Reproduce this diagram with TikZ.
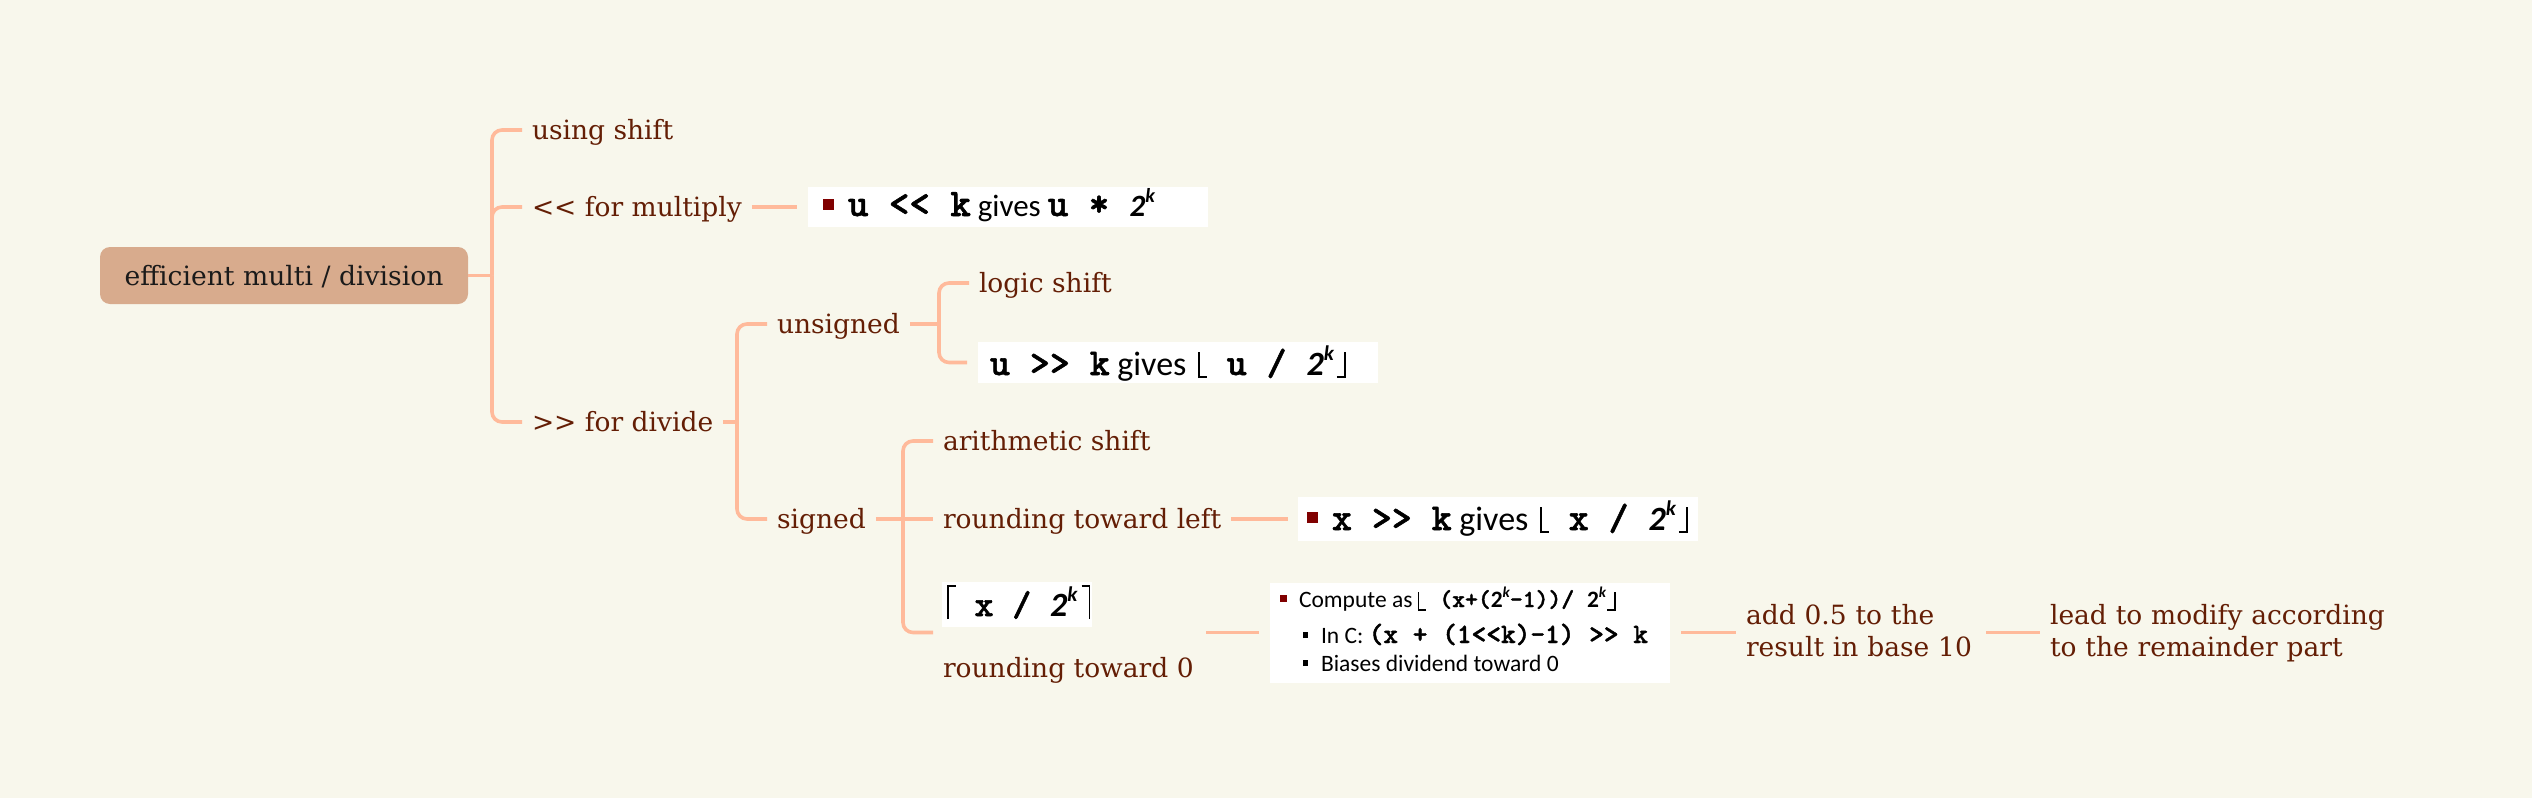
\documentclass[tikz,border=0pt]{standalone}
\usepackage{fontspec}
\setmainfont{DejaVu Serif}
\newfontfamily\calfont{Carlito}
\newfontfamily\codefont[FakeBold=1.5]{lmmonolt10-bold.otf}
\definecolor{bgc}{RGB}{248,247,236}
\definecolor{linec}{RGB}{255,186,155}
\definecolor{brownc}{RGB}{100,30,5}
\definecolor{rootc}{RGB}{216,171,141}
\definecolor{roottext}{RGB}{26,26,26}
\definecolor{bulred}{RGB}{128,0,0}
\newcommand\tsz{\fontsize{26.5pt}{32pt}\selectfont}
\newcommand\cd[2]{{\codefont\fontsize{#1pt}{#1pt}\selectfont #2}}
\newcommand\cb[2]{{\calfont\fontsize{#1pt}{#1pt}\selectfont #2}}
\newcommand\tk[2]{{\calfont\bfseries\fontsize{#1pt}{#1pt}\selectfont 2\raisebox{0.42em}{\itshape\fontsize{#2pt}{#2pt}\selectfont k}}}
\newcommand\tki[2]{{\calfont\bfseries\itshape\fontsize{#1pt}{#1pt}\selectfont 2\raisebox{0.42em}{\fontsize{#2pt}{#2pt}\selectfont k}}}
% floor / ceiling brackets: #1 total height, #2 depth below baseline
\newcommand\flo[2]{\rule[-#2pt]{1.7pt}{#1pt}\rule[-#2pt]{7pt}{1.7pt}}
\newcommand\flc[2]{\rule[-#2pt]{7pt}{1.7pt}\rule[-#2pt]{1.7pt}{#1pt}}
\newcommand\cei[2]{\rule[-#2pt]{1.7pt}{#1pt}\rule[\dimexpr#1pt-#2pt-1.7pt\relax]{7pt}{1.7pt}}
\newcommand\cec[2]{\rule[\dimexpr#1pt-#2pt-1.7pt\relax]{7pt}{1.7pt}\rule[-#2pt]{1.7pt}{#1pt}}
\newcommand\bul[2]{\raisebox{#1pt}{\textcolor{bulred}{\rule{#2pt}{#2pt}}}}
\newcommand\sbul{\raisebox{5pt}{\rule{5pt}{6pt}}}
\begin{document}
\begin{tikzpicture}[x=1pt,y=-1pt,
  conn/.style={draw=linec,line width=3.6pt,rounded corners=10pt},
  topic/.style={anchor=west,text=brownc,font=\tsz,inner xsep=10pt,inner ysep=0pt,outer sep=0pt,text height=22pt,text depth=4pt},
  wbox/.style={fill=white,inner sep=0pt,outer xsep=11pt,outer ysep=0pt,anchor=west},
  cont/.style={anchor=base west,inner sep=0pt,outer sep=0pt,text=black}]
\fill[bgc] (0,0) rectangle (2532,798);
\useasboundingbox (0,0) rectangle (2532,798);

% root
\node[fill=rootc,rounded corners=10pt,minimum width=368pt,minimum height=57pt,inner sep=0pt,
      text=roottext,font=\fontsize{26.6pt}{30pt}\selectfont,text height=24pt,text depth=5pt] (root) at (284,275.5) {efficient multi / division};

% level 1
\node[topic] (using) at (522,130) {using shift};
\node[topic] (mult) at (522,207) {<{}< for multiply};
\node[topic] (divide) at (522,422) {>{}> for divide};

% multiply box
\node[wbox,minimum width=400pt,minimum height=40pt] (mulbox) at (797,207) {};
\node[cont] (multxt) at (823,216) {\bul{6}{11}\hspace{14pt}\cd{39}{u << k}\cb{31}{ gives }\cd{39}{u * }\tki{31}{20}};

% divide
\node[topic] (unsigned) at (767,324) {unsigned};
\node[topic] (signed) at (767,519) {signed};

% unsigned
\node[topic] (logic) at (969,283) {logic shift};
\node[wbox,minimum width=400pt,minimum height=41pt] (ushbox) at (967,362.5) {};
\node[cont] (ushtxt) at (990,375) {\cd{38}{u >> k}\cb{34}{ gives }\hspace{4pt}\flo{26}{3}\cd{38}{ u / }\tki{34}{21}\hspace{3pt}\flc{26}{3}};

% signed
\node[topic] (arith) at (933,441) {arithmetic shift};
\node[topic] (left) at (933,519) {rounding toward left};
\node[wbox,minimum width=400pt,minimum height=44pt,outer xsep=10pt] (xshbox) at (1288,519) {};
\node[cont] (xshtxt) at (1307,530) {\bul{7}{11}\hspace{14pt}\cd{38}{x >> k}\cb{34}{ gives }\hspace{4pt}\flo{26}{3}\cd{38}{ x / }\tki{34}{21}\hspace{3pt}\flc{26}{3}};

\node[minimum width=273pt,minimum height=100pt,inner sep=0pt,outer sep=0pt,anchor=west] (zero) at (933,632.5) {};
\node[fill=white,inner sep=0pt,minimum width=150pt,minimum height=45pt,anchor=north west] (ceilbox) at (942,582) {};
\node[cont] (ceiltxt) at (947,616) {\cei{34}{3}\cd{36}{ x / }\tki{34}{21}\hspace{4pt}\cec{34}{3}};
\node[topic,anchor=base west] (zerotxt) at (933,677) {rounding toward 0};

% compute box
\node[wbox,minimum width=400pt,minimum height=100pt] (compute) at (1259,632.5) {};
\node[cont] (c1) at (1280,607) {\bul{5}{7}\hspace{12pt}\cb{23.5}{Compute as }\flo{19}{4}\cd{24.5}{ (x+(}\tk{23.5}{15}\cd{24.5}{-1))/ }\tk{23.5}{15}\hspace{1pt}\flc{19}{4}};
\node[cont] (c2) at (1303,643) {\sbul\hspace{13pt}\cb{23.5}{In C: }\cd{28}{(x + (1<<k)-1) >> k}};
\node[cont] (c3) at (1303,671) {\sbul\hspace{13pt}\cb{23.5}{Biases dividend toward 0}};

\node[topic,align=left,text width=230pt,text height=22pt,text depth=38pt] (add) at (1736,632.5) {add 0.5 to the\\result in base 10};
\node[topic,align=left,text width=340pt,text height=22pt,text depth=38pt] (lead) at (2040,632.5) {lead to modify according\\to the remainder part};

% connectors
\coordinate (t1) at (492,275.5);
\coordinate (t2) at (737,422);
\coordinate (t3) at (939,324);
\coordinate (t4) at (903,519);
\draw[conn] (root.east) -- (t1);
\draw[conn] (t1) |- (using.west);
\draw[conn] (t1) |- (mult.west);
\draw[conn] (t1) |- (divide.west);
\draw[conn] (mult.east) -- (mulbox.west);
\draw[conn] (divide.east) -- (t2);
\draw[conn] (t2) |- (unsigned.west);
\draw[conn] (t2) |- (signed.west);
\draw[conn] (unsigned.east) -- (t3);
\draw[conn] (t3) |- (logic.west);
\draw[conn] (t3) |- (ushbox.west);
\draw[conn] (signed.east) -- (t4);
\draw[conn] (t4) |- (arith.west);
\draw[conn] (t4) -- (left.west);
\draw[conn] (t4) |- (zero.west);
\draw[conn] (left.east) -- (xshbox.west);
\draw[conn] (zero.east) -- (compute.west);
\draw[conn] (compute.east) -- (add.west);
\draw[conn] (add.east) -- (lead.west);
\end{tikzpicture}
\end{document}
